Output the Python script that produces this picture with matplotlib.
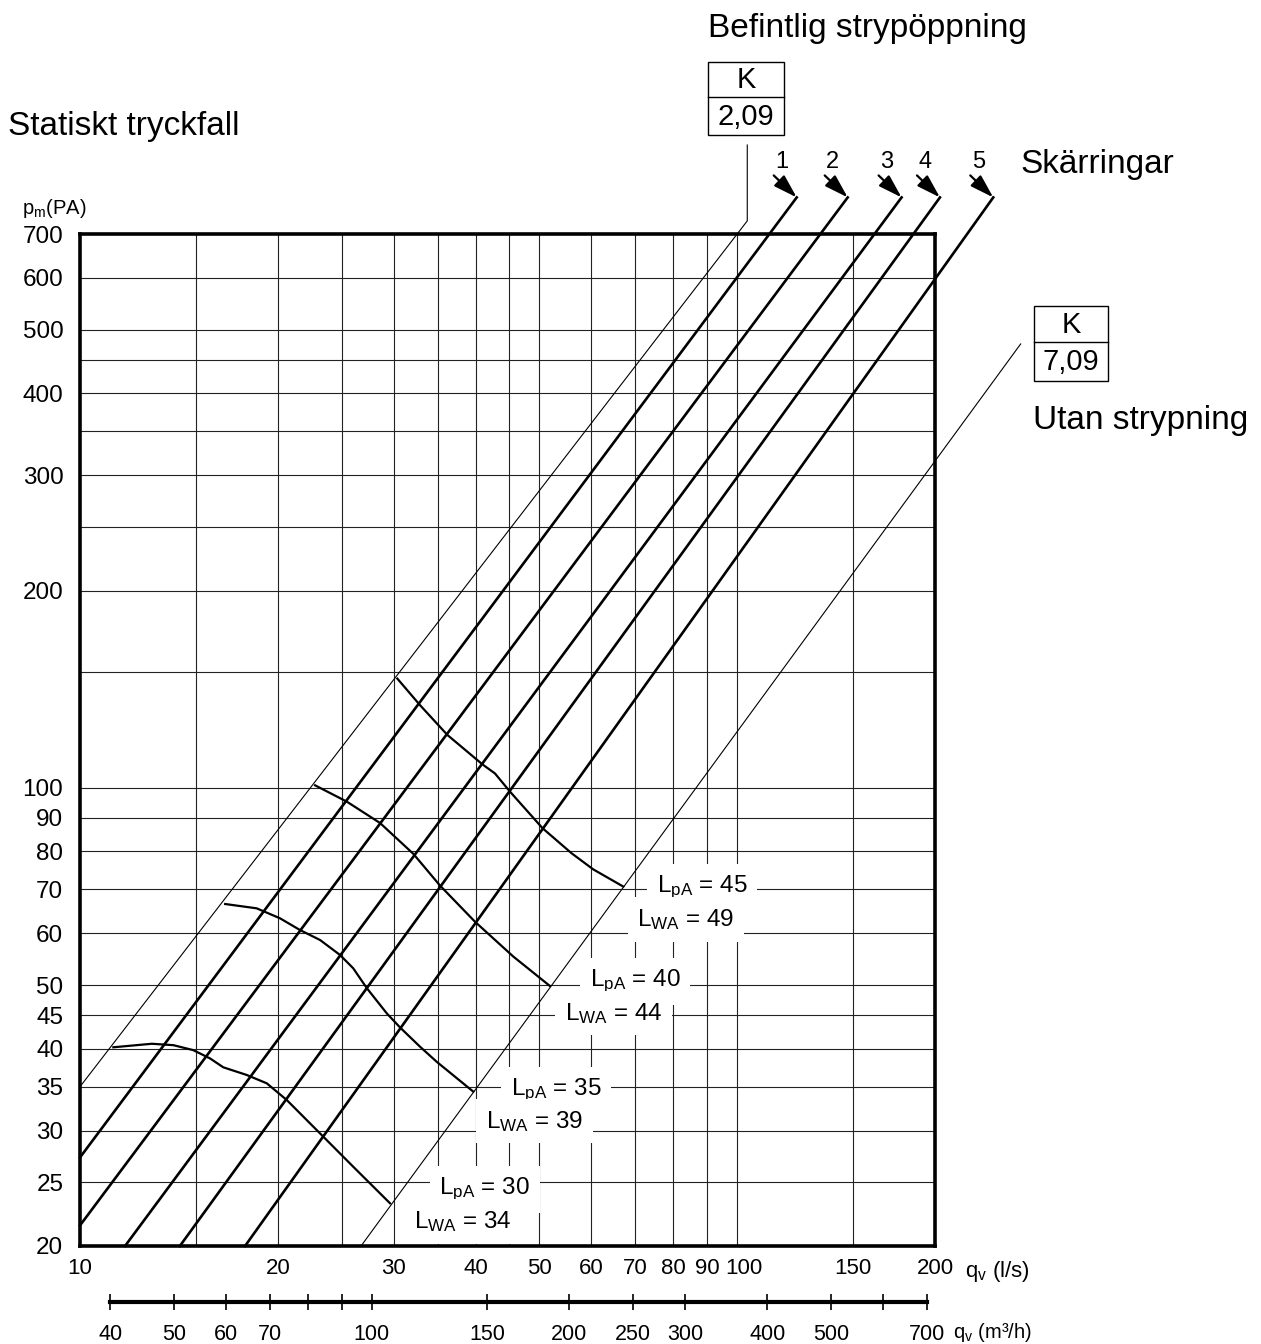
import matplotlib
matplotlib.use("Agg")

import matplotlib.pyplot as plt
from matplotlib.patches import Rectangle
from matplotlib.lines import Line2D
from matplotlib.ticker import NullLocator
from matplotlib.transforms import ScaledTranslation

plt.rcParams["font.family"] = ["Liberation Sans", "DejaVu Sans"]
plt.rcParams["mathtext.fontset"] = "custom"
plt.rcParams["mathtext.rm"] = "Liberation Sans"
plt.rcParams["mathtext.it"] = "Liberation Sans"

# --- data (q in l/s, p in Pa) ---
Q_TICKS = [10, 20, 30, 40, 50, 60, 70, 80, 90, 100, 150, 200]
P_TICKS = [20, 25, 30, 35, 40, 45, 50, 60, 70, 80, 90, 100, 200, 300, 400, 500, 600, 700]
Q_GRID = [15, 20, 25, 30, 35, 40, 45, 50, 60, 70, 80, 90, 100, 150]
P_GRID = [25, 30, 35, 40, 45, 50, 60, 70, 80, 90, 100, 150, 200, 250, 300, 350, 400, 450, 500, 600]
M3H_TICKS = [40, 50, 60, 70, 80, 90, 100, 150, 200, 250, 300, 400, 500, 600, 700]
M3H_LABELED = [40, 50, 60, 70, 100, 150, 200, 250, 300, 400, 500, 700]

# skärringar 1-5: start at plot edge, end at arrow tip above the frame
RING_NO = [1, 2, 3, 4, 5]
RING_Q0 = [10, 10, 11.71, 14.19, 17.83]
RING_P0 = [27.3, 21.5, 20, 20, 20]
RING_Q1 = [123.2, 147.3, 177.9, 203.5, 245.3]
RING_P1 = [796, 796, 796, 796, 796]

# K-value lines (thin)
K209_Q = [10, 103.6, 103.6]
K209_P = [35, 733, 957]
K709_Q = [26.77, 270]
K709_P = [20, 475.7]

# sound level curves
C30_Q = [11.24, 12.86, 13.87, 14.87, 15.77, 16.52, 17.94, 19.24, 20.63, 23.45, 26.05, 29.63]
C30_P = [40.2, 40.7, 40.5, 39.8, 38.66, 37.47, 36.47, 35.42, 33.41, 29.37, 26.42, 23.24]
C35_Q = [16.63, 18.57, 20.15, 21.61, 23.19, 24.87, 26.05, 27.31, 29.29, 30.69, 32.9, 34.9, 39.67]
C35_P = [66.5, 65.5, 63.25, 60.7, 58.6, 55.6, 53.05, 49.5, 45.3, 43.1, 40.3, 38.2, 34.4]
C40_Q = [22.79, 25.46, 28.61, 32.16, 35.3, 39.9, 45.63, 51.9]
C40_P = [100.9, 95.3, 88.4, 79.3, 70.96, 62.5, 55.3, 49.85]
C45_Q = [30.4, 32.9, 36.24, 40.97, 42.8, 45.11, 50.56, 55.96, 60.4, 67.1]
C45_P = [146.8, 133.8, 120.4, 108.6, 105.2, 98.7, 86.8, 79.5, 75.1, 70.7]

LPA = [30, 35, 40, 45]
LWA = [34, 39, 44, 49]
LPA_Q = [41.3, 53.0, 69.9, 88.4]
LPA_P = [24.4, 34.6, 50.6, 70.5]
LWA_Q = [38.3, 49.2, 64.9, 83.6]
LWA_P = [21.8, 31.0, 45.3, 63.0]

W, H = 1261, 1344
fig = plt.figure(figsize=(W / 100, H / 100), dpi=100)
ax = fig.add_axes([80 / W, 98 / H, 855 / W, 1012 / H])
ax.set_xscale("log")
ax.set_yscale("log")
ax.set_xlim(10, 200)
ax.set_ylim(20, 700)

for q in Q_GRID:
    ax.axvline(q, color="#222222", lw=0.8, zorder=1)
for p in P_GRID:
    ax.axhline(p, color="#222222", lw=0.8, zorder=1)

ax.set_xticks(Q_TICKS, labels=[str(v) for v in Q_TICKS])
ax.set_yticks(P_TICKS, labels=[str(v) for v in P_TICKS])
ax.xaxis.set_minor_locator(NullLocator())
ax.yaxis.set_minor_locator(NullLocator())
ax.tick_params(which="both", length=0)
ax.tick_params(axis="x", pad=9, labelsize=16)
ax.tick_params(axis="y", pad=12, labelsize=17.5)
for s in ax.spines.values():
    s.set_linewidth(2.6)

# the "100" label sits a little right of its grid line in the original
for lab in ax.get_xticklabels():
    if lab.get_text() == "100":
        lab.set_transform(lab.get_transform() + ScaledTranslation(0.07, 0, fig.dpi_scale_trans))

# second flow axis in m3/h
sec = ax.secondary_xaxis(-0.055, functions=(lambda q: q * 3.6, lambda m: m / 3.6))
sec.set_xticks(M3H_TICKS, labels=[str(v) if v in M3H_LABELED else "" for v in M3H_TICKS])
sec.xaxis.set_minor_locator(NullLocator())
sec.spines["bottom"].set_bounds(40, 700)
sec.spines["bottom"].set_linewidth(3)
sec.tick_params(direction="inout", length=12, width=1.2, labelsize=15.5, pad=10)

# lines
thin = dict(color="k", lw=0.8, clip_on=False, zorder=5)
ax.plot(K209_Q, K209_P, **thin)
ax.plot(K709_Q, K709_P, **thin)

for n, q0, p0, q1, p1 in zip(RING_NO, RING_Q0, RING_P0, RING_Q1, RING_P1):
    ax.plot([q0, q1], [p0, p1], color="k", lw=1.9, clip_on=False, zorder=3)
    ax.annotate("", xy=(q1, p1), xytext=(-23, 22), textcoords="offset pixels",
                arrowprops=dict(arrowstyle="-|>,head_length=0.9,head_width=0.28",
                                color="k", lw=1.6, shrinkA=0, shrinkB=0,
                                mutation_scale=16),
                annotation_clip=False)
    ax.annotate(str(n), xy=(q1, p1), xytext=(-15, 35), textcoords="offset pixels",
                ha="center", va="center", fontsize=17, annotation_clip=False)

for cq, cp in [(C30_Q, C30_P), (C35_Q, C35_P), (C40_Q, C40_P), (C45_Q, C45_P)]:
    ax.plot(cq, cp, color="k", lw=1.6, zorder=3, solid_joinstyle="round")

box = dict(boxstyle="square,pad=0.4", facecolor="white", edgecolor="none")
for a, b, qa, pa, qb, pb in zip(LPA, LWA, LPA_Q, LPA_P, LWA_Q, LWA_P):
    ax.text(qa, pa, r"$\mathrm{L_{pA}}$ = %d" % a, ha="center", va="center",
            fontsize=17.5, bbox=box, zorder=4)
    ax.text(qb, pb, r"$\mathrm{L_{WA}}$ = %d" % b, ha="center", va="center",
            fontsize=17.5, bbox=box, zorder=4)


def fx(x):
    return x / W


def fy(y):
    return 1 - y / H


fig.text(fx(708), fy(28), "Befintlig strypöppning", fontsize=24, va="center")
fig.text(fx(8), fy(126), "Statiskt tryckfall", fontsize=24, va="center")
fig.text(fx(1020), fy(165), "Skärringar", fontsize=24, va="center")
fig.text(fx(1033), fy(420), "Utan strypning", fontsize=24, va="center")
fig.text(fx(22), fy(208), r"$\mathrm{p_m}$(PA)", fontsize=14.5, va="center")
fig.text(fx(965), fy(1272), r"$\mathrm{q_v}$ (l/s)", fontsize=16, va="center")
fig.text(fx(953), fy(1332), r"$\mathrm{q_v}$ (m³/h)", fontsize=14.5, va="center")

# K-value boxes
for (x0, y0, x1, y1, ym), val in [((708, 62, 784, 135, 97), "2,09"),
                                  ((1034, 306, 1108, 381, 342), "7,09")]:
    fig.add_artist(Rectangle((fx(x0), fy(y1)), fx(x1 - x0), (y1 - y0) / H,
                             facecolor="white", edgecolor="k", lw=1.0))
    fig.add_artist(Line2D([fx(x0), fx(x1)], [fy(ym), fy(ym)], color="k", lw=1.0))
    fig.text(fx((x0 + x1) / 2), fy((y0 + ym) / 2 + 1), "K", fontsize=21,
             ha="center", va="center")
    fig.text(fx((x0 + x1) / 2), fy((ym + y1) / 2 + 1), val, fontsize=21,
             ha="center", va="center")

fig.savefig("out.png", dpi=100)
